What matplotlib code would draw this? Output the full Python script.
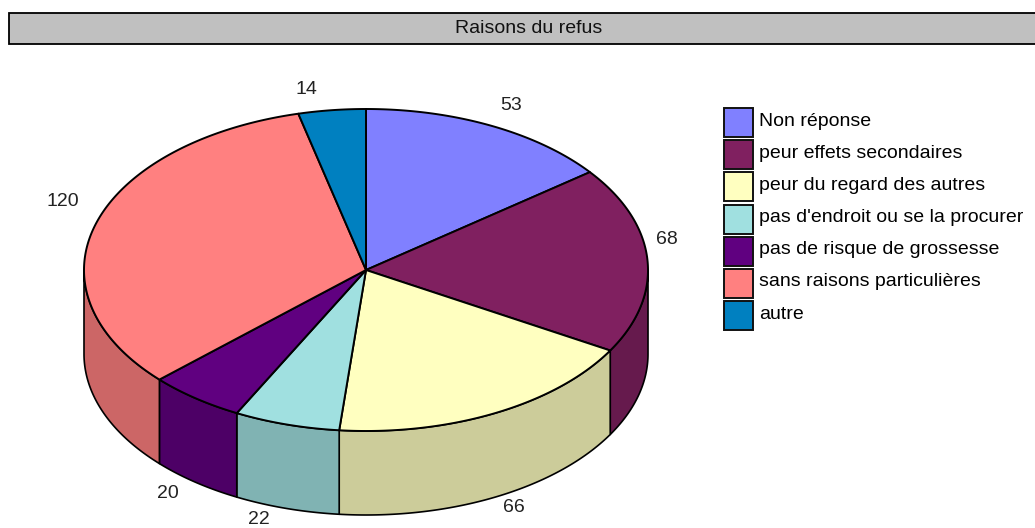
import numpy as np
import matplotlib
matplotlib.use("Agg")
import matplotlib.pyplot as plt
from matplotlib.patches import Rectangle
from matplotlib.colors import to_rgb

TITLE = "Raisons du refus"
LABELS = ["Non réponse", "peur effets secondaires", "peur du regard des autres",
          "pas d'endroit ou se la procurer", "pas de risque de grossesse",
          "sans raisons particulières", "autre"]
VALUES = [53, 68, 66, 22, 20, 120, 14]
COLORS = ["#8080ff", "#802060", "#ffffc0", "#a0e0e0", "#600080", "#ff8080", "#0080c0"]
# where the value labels sit, in pixels
VALUE_POS = [(511, 105), (667, 239), (514, 508), (259, 520), (168, 494), (63, 202), (306, 89)]

CX, CY = 366, 270
RX, RY = 282, 161
DEPTH = 84
SHADE = 0.8
EDGE = "black"
FONT = 14

plt.rcParams['font.family'] = ['Liberation Sans', 'DejaVu Sans']
fig = plt.figure(figsize=(10.35, 5.28), dpi=100)
ax = fig.add_axes([0, 0, 1, 1])
ax.set_xlim(0, 1035)
ax.set_ylim(528, 0)
ax.axis('off')


def rim(a0, a1, dy=0):
    # angles are clockwise from 12 o'clock, in degrees
    t = np.radians(np.linspace(a0, a1, max(int(a1 - a0) * 2, 2)))
    return CX + RX * np.sin(t), CY - RY * np.cos(t) + dy


# title bar
ax.add_patch(Rectangle((9, 13), 1039, 31, fc="#c0c0c0", ec=EDGE, lw=1.3, clip_on=True))
ax.text(528.5, 28.5, TITLE, fontsize=FONT, color="#111111", ha='center', va='center')

angles = np.cumsum([0] + VALUES) / sum(VALUES) * 360

# side wall, only the front half of the rim shows
for i, color in enumerate(COLORS):
    a0, a1 = max(angles[i], 90), min(angles[i + 1], 270)
    if a0 >= a1:
        continue
    x, y = rim(a0, a1)
    x2, y2 = rim(a0, a1, DEPTH)
    dark = tuple(c * SHADE for c in to_rgb(color))
    ax.fill(np.r_[x, x2[::-1]], np.r_[y, y2[::-1]], fc=dark, ec=EDGE, lw=1.2, joinstyle='round')

# top face
for i, color in enumerate(COLORS):
    x, y = rim(angles[i], angles[i + 1])
    ax.fill(np.r_[CX, x], np.r_[CY, y], fc=color, ec=EDGE, lw=1.4, joinstyle='round')

for (x, y), v in zip(VALUE_POS, VALUES):
    ax.text(x, y, str(v), fontsize=FONT, color="#222222", ha='center', va='center')

# legend
for i, (label, color) in enumerate(zip(LABELS, COLORS)):
    top = 108 + i * 32.2
    ax.add_patch(Rectangle((724, top), 29, 29, fc=color, ec="#111111", lw=1.4))
    ax.text(759, top + 13, label, fontsize=FONT, color="black", ha='left', va='center')

fig.savefig("out.png", dpi=100)
plt.close('all')
